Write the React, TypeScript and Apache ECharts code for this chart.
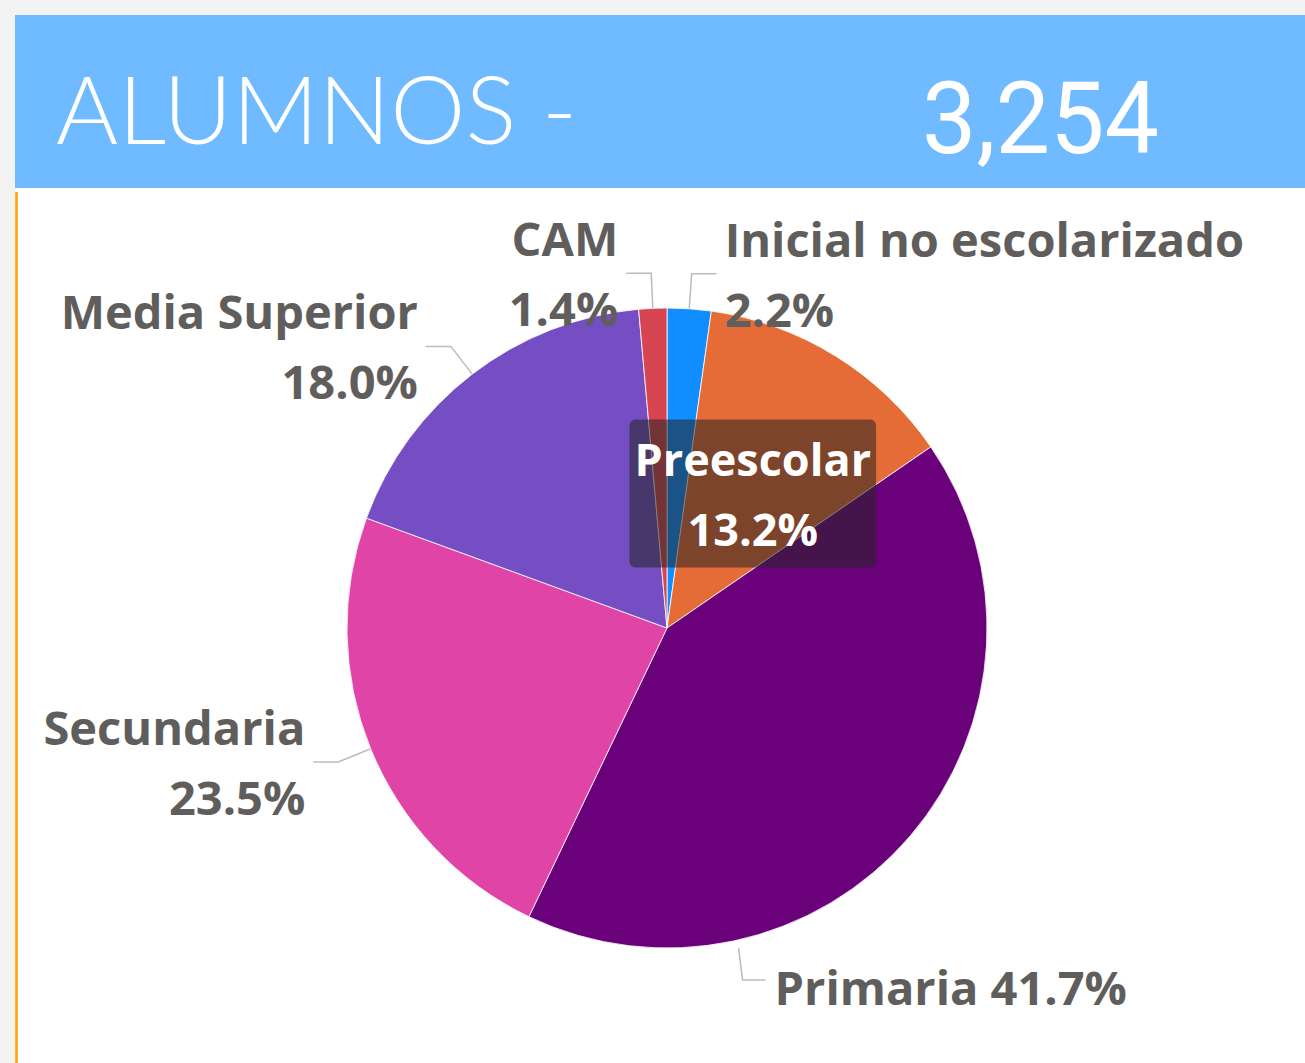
import React, { useEffect, useRef } from "react";
import * as echarts from "echarts";

const categories = [
  "Inicial no escolarizado",
  "Preescolar",
  "Primaria",
  "Secundaria",
  "Media Superior",
  "CAM",
];
const values = [72, 430, 1356, 764, 586, 46];
const colors = ["#118DFF", "#E66C37", "#6B007B", "#E044A7", "#744EC2", "#D64550"];
const titleText = "ALUMNOS -";

const CENTER: [number, number] = [667, 628];
const RADIUS = 320;
const PRIMARIA_LABEL_ANGLE = 167.4; // degrees clockwise from top

export default function App() {
  const ref = useRef<HTMLDivElement>(null);

  useEffect(() => {
    if (!ref.current) return;
    const chart = echarts.init(ref.current, undefined, { renderer: "svg" });
    const total = values.reduce((a, b) => a + b, 0).toLocaleString("en-US");
    const textColor = "#605E5C";
    const font = "Open Sans";

    const data = categories.map((name, i) => {
      const item: any = { name, value: values[i], itemStyle: { color: colors[i] } };
      if (name === "Preescolar") {
        item.label = {
          position: "inside",
          color: "#fff",
          fontSize: 45,
          backgroundColor: "rgba(37,36,35,0.55)",
          padding: [5, 5, 3, 5],
          borderRadius: 6,
          offset: [0, 4],
        };
        item.labelLine = { show: false };
      }
      if (name === "Primaria") {
        item.label = {
          formatter: (p: any) => `${p.name} ${Number(p.percent).toFixed(1)}%`,
        };
      }
      return item;
    });

    const primariaIndex = categories.indexOf("Primaria");

    chart.setOption({
      animation: false,
      graphic: [
        { type: "rect", z: 0, shape: { x: 0, y: 0, width: 1305, height: 1063 }, style: { fill: "#F3F3F3" } },
        { type: "rect", z: 0, shape: { x: 16, y: 188, width: 1289, height: 875 }, style: { fill: "#ffffff" } },
        { type: "line", z: 0, shape: { x1: 16.5, y1: 192, x2: 16.5, y2: 1063 }, style: { stroke: "#FFA500", lineWidth: 2.5 } },
        { type: "rect", z: 0, shape: { x: 15, y: 15, width: 1290, height: 173 }, style: { fill: "#70BAFF" } },
        {
          type: "text",
          z: 1,
          x: 56,
          y: 107,
          style: { text: titleText, fill: "#ffffff", font: "300 95px Lato", verticalAlign: "middle", align: "left" },
        },
        {
          type: "text",
          z: 1,
          x: 922,
          y: 118,
          scaleX: 0.96,
          style: { text: total, fill: "#ffffff", font: "400 101px Roboto", verticalAlign: "middle", align: "left" },
        },
      ],
      series: [
        {
          type: "pie",
          center: CENTER,
          radius: RADIUS,
          startAngle: 90,
          clockwise: true,
          percentPrecision: 1,
          avoidLabelOverlap: false,
          z: 2,
          itemStyle: { borderColor: "#ffffff", borderWidth: 0.8 },
          label: {
            show: true,
            position: "outside",
            formatter: (p: any) => `${p.name}\n${Number(p.percent).toFixed(1)}%`,
            fontFamily: font,
            fontWeight: "bold",
            fontSize: 47,
            lineHeight: 70,
            color: textColor,
            distanceToLabelLine: 8,
          },
          labelLine: {
            show: true,
            length: 35,
            length2: 25,
            lineStyle: { color: "#BEBBB8", width: 1.5 },
          },
          emphasis: { disabled: true },
          labelLayout: (params: any) => {
            if (params.dataIndex !== primariaIndex) return {};
            const a = (PRIMARIA_LABEL_ANGLE * Math.PI) / 180;
            const dx = Math.sin(a);
            const dy = -Math.cos(a);
            const p0 = [CENTER[0] + (RADIUS + 8) * dx, CENTER[1] + (RADIUS + 8) * dy];
            const p1 = [p0[0] + 4, p0[1] + 32];
            const p2 = [p1[0] + 23, p1[1]];
            return {
              x: p2[0] + 9,
              y: p2[1] + 7,
              align: "left",
              verticalAlign: "middle",
              labelLinePoints: [p0, p1, p2],
            };
          },
          data,
        },
      ],
    });
    return () => chart.dispose();
  }, []);

  return (
    <div
      ref={ref}
      style={{ position: "absolute", left: 0, top: 0, width: 1305, height: 1063 }}
    />
  );
}
